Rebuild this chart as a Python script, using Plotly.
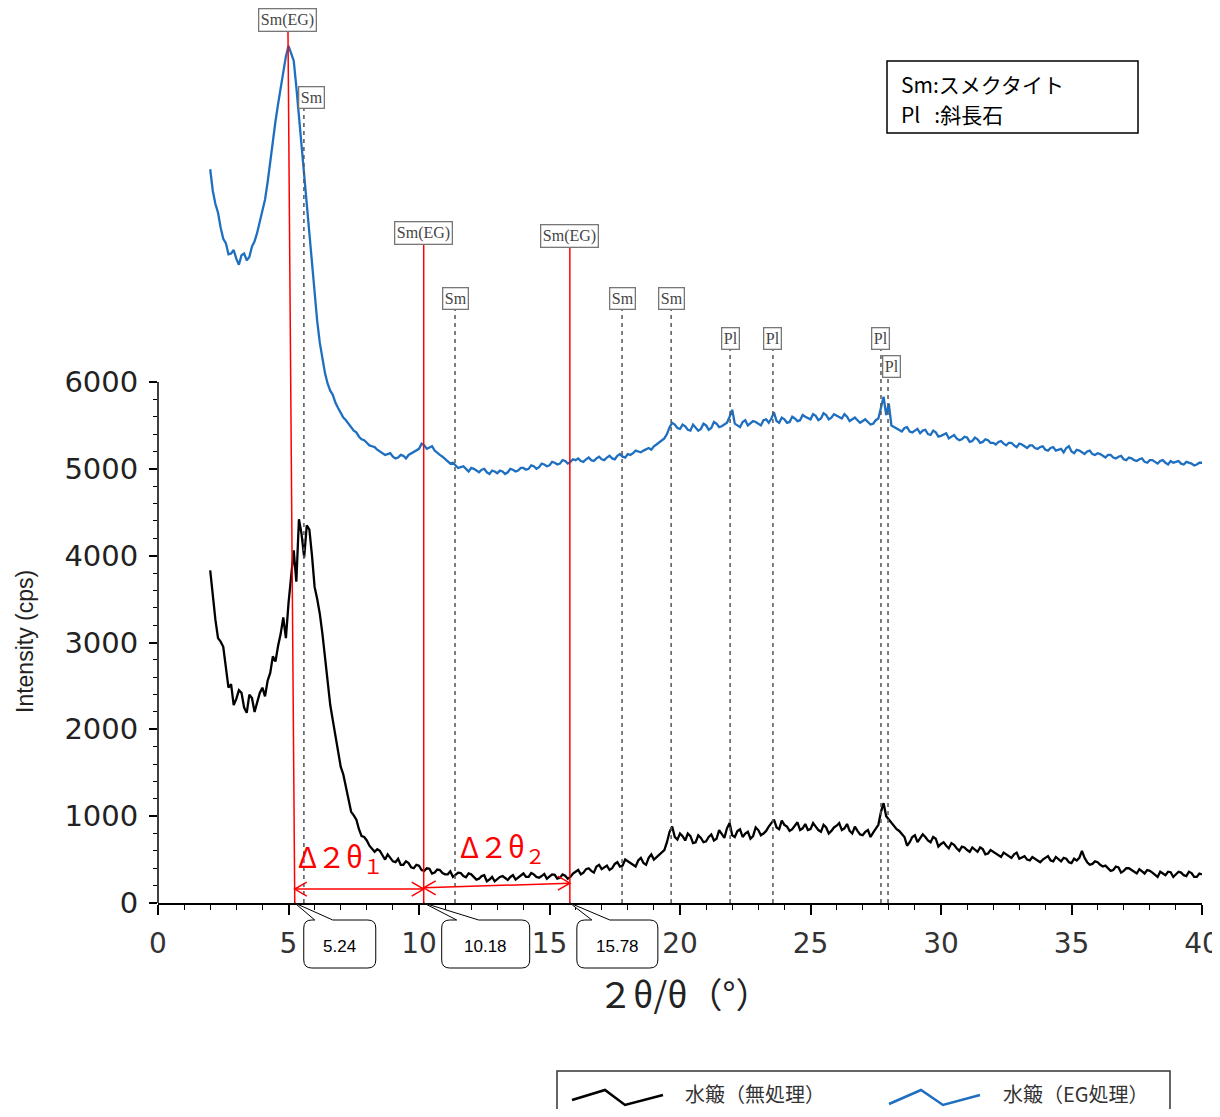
import plotly.graph_objects as go

# ---------------- data ----------------
# step-scan grid (0.2 deg) plus the in-between readings (0.1 deg offsets)
scan_2theta_main = [round(2.0 + 0.2 * i, 1) for i in range(191)]
scan_2theta_mid = [round(2.1 + 0.2 * i, 1) for i in range(190)]

intensity_untreated_main = [
    3830, 3260, 3010, 2700, 2520, 2350, 2420, 2190, 2360, 2310,
    2480, 2560, 2840, 2960, 3290, 3450, 4060, 4420, 3980, 4300,
    3640, 3330, 2820, 2280, 1930, 1570, 1340, 1050, 960, 770,
    720, 630, 620, 550, 560, 480, 510, 440, 460, 400,
    430, 370, 395, 350, 380, 330, 365, 320, 345, 295,
    330, 270, 310, 250, 300, 275, 310, 265, 320, 290,
    340, 300, 330, 290, 335, 300, 325, 290, 315, 300,
    360, 330, 390, 370, 420, 390, 430, 400, 470, 430,
    480, 440, 490, 460, 520, 500, 560, 610, 820, 760,
    800, 720, 770, 700, 750, 710, 790, 740, 800, 860,
    780, 830, 760, 820, 770, 840, 800, 880, 960, 850,
    900, 830, 890, 840, 910, 850, 880, 820, 870, 830,
    890, 840, 910, 800, 830, 780, 840, 810, 900, 1150,
    960, 880, 830, 760, 700, 780, 740, 760, 700, 740,
    680, 660, 690, 630, 650, 610, 640, 590, 620, 570,
    590, 550, 580, 540, 560, 510, 540, 490, 510, 470,
    520, 490, 530, 480, 510, 460, 490, 600, 470, 450,
    470, 420, 400, 380, 410, 370, 400, 360, 390, 340,
    370, 330, 360, 320, 355, 330, 350, 310, 345, 300,
    330,
]
intensity_untreated_mid = [
    3500, 3050, 2950, 2480, 2280, 2450, 2250, 2400, 2200, 2420,
    2380, 2650, 2780, 3100, 3050, 3800, 3700, 4250, 4350, 4000,
    3500, 3100, 2600, 2100, 1720, 1480, 1200, 1010, 850, 760,
    660, 590, 600, 500, 520, 470, 440, 480, 410, 440,
    380, 400, 340, 385, 345, 330, 300, 350, 310, 340,
    300, 280, 320, 270, 250, 300, 285, 300, 270, 320,
    300, 345, 300, 310, 280, 330, 280, 330, 280, 340,
    380, 350, 400, 350, 440, 410, 380, 450, 420, 500,
    460, 420, 520, 440, 560, 530, 580, 700, 880, 730,
    770, 800, 690, 780, 700, 760, 720, 840, 750, 920,
    760, 850, 800, 740, 870, 780, 830, 920, 870, 950,
    880, 850, 930, 860, 840, 920, 840, 900, 800, 870,
    920, 860, 830, 880, 790, 820, 760, 850, 1050, 1000,
    920, 850, 790, 660, 760, 700, 790, 720, 760, 650,
    700, 630, 670, 600, 640, 590, 610, 640, 560, 610,
    570, 530, 560, 520, 580, 530, 500, 530, 480, 500,
    540, 480, 500, 520, 470, 510, 520, 520, 440, 480,
    440, 430, 370, 420, 350, 400, 380, 340, 370, 380,
    350, 300, 340, 360, 300, 360, 320, 360, 300, 340,
]

intensity_eg_main = [
    8450, 8050, 7780, 7600, 7480, 7420, 7460, 7400, 7560, 7720,
    7960, 8300, 8780, 9200, 9560, 9870, 9700, 9050, 8380, 7650,
    7050, 6450, 6100, 5900, 5760, 5640, 5560, 5470, 5420, 5340,
    5300, 5260, 5220, 5190, 5170, 5140, 5130, 5150, 5160, 5190,
    5230, 5270, 5250, 5210, 5160, 5110, 5060, 5040, 5020, 5000,
    5010, 4980, 4990, 4960, 4980, 4950, 4970, 4960, 4990, 4980,
    5010, 5000, 5030, 5020, 5050, 5040, 5070, 5060, 5090, 5080,
    5100, 5090, 5110, 5100, 5120, 5110, 5130, 5120, 5150, 5140,
    5170, 5180, 5200, 5210, 5240, 5260, 5300, 5350, 5480, 5510,
    5460, 5490, 5440, 5480, 5460, 5500, 5470, 5520, 5490, 5530,
    5680, 5500, 5540, 5500, 5550, 5520, 5560, 5530, 5650, 5530,
    5570, 5540, 5580, 5560, 5600, 5570, 5610, 5580, 5620, 5590,
    5610, 5580, 5600, 5570, 5560, 5550, 5540, 5520, 5580, 5830,
    5750, 5480, 5450, 5470, 5430, 5440, 5410, 5450, 5390, 5420,
    5380, 5410, 5370, 5350, 5340, 5360, 5320, 5340, 5310, 5330,
    5300, 5310, 5290, 5300, 5270, 5290, 5260, 5270, 5240, 5250,
    5220, 5240, 5210, 5230, 5240, 5200, 5220, 5190, 5200, 5170,
    5180, 5150, 5160, 5130, 5140, 5110, 5130, 5100, 5110, 5080,
    5100, 5080, 5090, 5070, 5090, 5080, 5060, 5080, 5060, 5050,
    5070,
]
intensity_eg_mid = [
    8200, 7950, 7650, 7470, 7520, 7350, 7480, 7440, 7620, 7850,
    8100, 8550, 9000, 9400, 9750, 9780, 9400, 8700, 8000, 7350,
    6700, 6250, 5980, 5850, 5700, 5590, 5520, 5440, 5370, 5330,
    5270, 5250, 5200, 5160, 5180, 5120, 5160, 5120, 5180, 5210,
    5290, 5230, 5260, 5180, 5140, 5080, 5070, 5010, 5030, 4970,
    5000, 4960, 5000, 4940, 4970, 4980, 4940, 5000, 4970, 5010,
    4990, 5040, 5000, 5060, 5030, 5080, 5050, 5100, 5060, 5110,
    5120, 5080, 5130, 5090, 5140, 5100, 5150, 5110, 5170, 5130,
    5160, 5210, 5190, 5230, 5220, 5280, 5320, 5400, 5530, 5470,
    5510, 5450, 5510, 5440, 5520, 5450, 5540, 5480, 5510, 5600,
    5520, 5480, 5560, 5520, 5540, 5500, 5570, 5580, 5550, 5590,
    5530, 5600, 5550, 5620, 5580, 5630, 5560, 5640, 5570, 5630,
    5590, 5630, 5550, 5590, 5530, 5570, 5510, 5560, 5700, 5620,
    5500, 5470, 5430, 5480, 5420, 5460, 5440, 5400, 5440, 5370,
    5400, 5350, 5390, 5330, 5370, 5310, 5360, 5300, 5340, 5300,
    5280, 5320, 5270, 5300, 5250, 5280, 5240, 5270, 5230, 5260,
    5210, 5250, 5220, 5190, 5260, 5180, 5210, 5170, 5210, 5160,
    5170, 5130, 5160, 5120, 5150, 5100, 5120, 5090, 5120, 5070,
    5100, 5060, 5100, 5050, 5070, 5090, 5050, 5070, 5040, 5070,
]

series_names = ["水簸（無処理）", "水簸（EG処理）"]

x_tick_vals = [0, 5, 10, 15, 20, 25, 30, 35, 40]
y_tick_vals = [0, 1000, 2000, 3000, 4000, 5000, 6000]

# reference peak markers (dashed): name, 2theta
ref_names = ["Sm", "Sm", "Sm", "Sm", "Pl", "Pl", "Pl", "Pl"]
ref_2theta = [5.59, 11.38, 17.78, 19.66, 21.92, 23.56, 27.70, 27.97]

# EG smectite peaks (red lines) and measured values
eg_peak_2theta = [5.24, 10.18, 15.78]
eg_peak_labels = ["5.24", "10.18", "15.78"]


def merge(main, mid):
    out = []
    for i in range(len(mid)):
        out.append(main[i])
        out.append(mid[i])
    out.append(main[-1])
    return out


x_all = merge(scan_2theta_main, scan_2theta_mid)
y_untreated = merge(intensity_untreated_main, intensity_untreated_mid)
y_eg = merge(intensity_eg_main, intensity_eg_mid)

# ---------------- layout constants (page pixel coordinates) ----------------
PAGE_OFF = 8                      # default body margin of the html page
W, H = 1220 - 2 * PAGE_OFF, 1117 - 2 * PAGE_OFF
PL, PR, PT, PB = 158, 1202, 10, 903
PW, PH = PR - PL, PB - PT
X_MAX = 40.0
PX_PER_CPS = 521.0 / 6000.0
Y_TOP = PH / PX_PER_CPS


def xpap(px):
    return (px - PL) / PW


def ypap(py):
    return (PB - py) / PH


def x_to_px(v):
    return PL + v / X_MAX * PW


def py_to_cps(py):
    return (PB - py) / PX_PER_CPS


BLUE = "#1f6fc1"
RED = "#ff0000"
JP = "Noto Sans CJK JP"
LABEL_FONT = dict(family="Liberation Serif", size=16, color="#444")

fig = go.Figure()
fig.add_trace(go.Scatter(x=x_all, y=y_eg, mode="lines",
                         line=dict(color=BLUE, width=2.3), name=series_names[1]))
fig.add_trace(go.Scatter(x=x_all, y=y_untreated, mode="lines",
                         line=dict(color="black", width=2.3), name=series_names[0]))

shapes = []
annotations = []


def ann(**kw):
    kw.setdefault("showarrow", False)
    kw.setdefault("xanchor", "center")
    kw.setdefault("yanchor", "middle")
    annotations.append(kw)


# y-axis line from 0 to 6000 only
shapes.append(dict(type="line", xref="paper", yref="y", x0=0, x1=0, y0=0, y1=6000,
                   line=dict(color="black", width=1.5)))

# dashed reference lines with labels
label_py = {"Sm": 298, "Pl": 338}
special_label = {0: (97, 8), 7: (366, 3)}  # index: (pixel y, xshift)
for i, (nm, tt) in enumerate(zip(ref_names, ref_2theta)):
    py, xs = special_label.get(i, (label_py[nm], 0))
    ycen = py_to_cps(py)
    shapes.append(dict(type="line", xref="x", yref="y", x0=tt, x1=tt, y0=0,
                       y1=ycen - 11 / PX_PER_CPS,
                       line=dict(color="#555555", width=1.5, dash="4px,4px")))
    ann(x=tt, y=ycen, xref="x", yref="y", text=nm, xshift=xs, font=LABEL_FONT,
        bordercolor="#777", borderwidth=1.3, borderpad=1.5, bgcolor="white")

# red EG lines + labels
red_tops = [(4.98, 20), (eg_peak_2theta[1], 233), (eg_peak_2theta[2], 236)]
for v, (xtop, lpy) in zip(eg_peak_2theta, red_tops):
    ycen = py_to_cps(lpy)
    shapes.append(dict(type="line", xref="x", yref="y", x0=xtop, x1=v,
                       y0=ycen - 11 / PX_PER_CPS, y1=0, line=dict(color=RED, width=1.5)))
    ann(x=xtop, y=ycen, xref="x", yref="y", text="Sm(EG)", font=LABEL_FONT,
        bordercolor="#777", borderwidth=1.3, borderpad=1.5, bgcolor="white")

# double arrows between red lines
dx_head = 12 / PW * X_MAX
dy_head = 7 / PX_PER_CPS
arrow_y = [(160, 160), (175, 228)]
for (xa, xb), (ya, yb) in zip([(eg_peak_2theta[0], eg_peak_2theta[1]),
                               (eg_peak_2theta[1], eg_peak_2theta[2])], arrow_y):
    shapes.append(dict(type="line", xref="x", yref="y", x0=xa, x1=xb, y0=ya, y1=yb,
                       line=dict(color=RED, width=1.5)))
    shapes.append(dict(type="path", xref="x", yref="y",
                       path=f"M {xa+dx_head},{ya+dy_head} L {xa},{ya} L {xa+dx_head},{ya-dy_head}",
                       line=dict(color=RED, width=1.5)))
    shapes.append(dict(type="path", xref="x", yref="y",
                       path=f"M {xb-dx_head},{yb+dy_head} L {xb},{yb} L {xb-dx_head},{yb-dy_head}",
                       line=dict(color=RED, width=1.5)))

# delta labels
ann(x=5.3, y=py_to_cps(857), xref="x", yref="y", xanchor="left",
    text="Δ２θ<sub>１</sub>", font=dict(family=JP, size=29, color=RED))
ann(x=11.5, y=py_to_cps(847), xref="x", yref="y", xanchor="left",
    text="Δ２θ<sub>２</sub>", font=dict(family=JP, size=29, color=RED))

# callouts (offsets in px relative to the tip)
callout_geom = [(9, 81, 20, 38), (18, 106, 33, 55), (7, 88, 22, 40)]
top, bot, r = 920, 968, 8
for v, txt, (lo, ro, p1o, p2o) in zip(eg_peak_2theta, eg_peak_labels, callout_geom):
    tip = x_to_px(v)
    L, R, P1, P2 = tip + lo, tip + ro, tip + p1o, tip + p2o
    pts = [
        f"M {xpap(P1)},{ypap(top)}",
        f"L {xpap(tip)},{ypap(PB)}",
        f"L {xpap(P2)},{ypap(top)}",
        f"L {xpap(R - r)},{ypap(top)}",
        f"Q {xpap(R)},{ypap(top)} {xpap(R)},{ypap(top + r)}",
        f"L {xpap(R)},{ypap(bot - r)}",
        f"Q {xpap(R)},{ypap(bot)} {xpap(R - r)},{ypap(bot)}",
        f"L {xpap(L + r)},{ypap(bot)}",
        f"Q {xpap(L)},{ypap(bot)} {xpap(L)},{ypap(bot - r)}",
        f"L {xpap(L)},{ypap(top + r)}",
        f"Q {xpap(L)},{ypap(top)} {xpap(L + r)},{ypap(top)}",
        "Z",
    ]
    shapes.append(dict(type="path", xref="paper", yref="paper", path=" ".join(pts),
                       line=dict(color="black", width=1), fillcolor="white", layer="above"))
    ann(x=xpap((L + R) / 2), y=ypap((top + bot) / 2 + 2), xref="paper", yref="paper",
        text=txt, font=dict(family="Liberation Sans", size=17, color="black"))

# key box (top-right)
shapes.append(dict(type="rect", xref="paper", yref="paper", x0=xpap(887), x1=xpap(1138),
                   y0=ypap(133), y1=ypap(61), line=dict(color="black", width=1.5), fillcolor="white"))
ann(x=xpap(899), y=ypap(84), xref="paper", yref="paper", xanchor="left",
    text="Sm:スメクタイト", font=dict(family=JP, size=21, color="black"))
ann(x=xpap(899), y=ypap(114), xref="paper", yref="paper", xanchor="left",
    text="Pl\u00a0\u00a0 :斜長石", font=dict(family=JP, size=21, color="black"))

# bottom legend box
shapes.append(dict(type="rect", xref="paper", yref="paper", x0=xpap(557), x1=xpap(1170),
                   y0=ypap(1116), y1=ypap(1071), line=dict(color="#333", width=1.5), fillcolor="white"))
for col, zig, tx, name in [("black", [(572, 1100), (605, 1090), (625, 1105), (663, 1095)], 683, series_names[0]),
                           (BLUE, [(889, 1104), (921, 1090), (943, 1105), (980, 1095)], 1001, series_names[1])]:
    path = "M " + " L ".join(f"{xpap(a)},{ypap(b)}" for a, b in zig)
    shapes.append(dict(type="path", xref="paper", yref="paper", path=path,
                       line=dict(color=col, width=2.5)))
    ann(x=xpap(tx), y=ypap(1093), xref="paper", yref="paper", xanchor="left",
        text=name, font=dict(family=JP, size=20, color="#333"))

# axis titles
ann(x=xpap(25), y=py_to_cps(642), xref="paper", yref="y", text="Intensity (cps)",
    textangle=-90, font=dict(family="Liberation Sans", size=23, color="#222"))
ann(x=xpap(684), y=ypap(993), xref="paper", yref="paper", text="２θ/θ（°）",
    font=dict(family=JP, size=35, color="#222"))

fig.update_layout(
    width=W, height=H,
    margin=dict(l=PL - PAGE_OFF, r=W - (PR - PAGE_OFF), t=PT - PAGE_OFF, b=H - (PB - PAGE_OFF), pad=0),
    plot_bgcolor="white", paper_bgcolor="white",
    showlegend=False,
    shapes=shapes, annotations=annotations,
    xaxis=dict(range=[0, X_MAX], showgrid=False, zeroline=False, showline=True, automargin=False,
               linecolor="black", linewidth=1.5, ticks="outside", ticklen=10, tickwidth=1.5,
               tickcolor="black", tickvals=x_tick_vals, ticklabelstandoff=5,
               ticklabeloverflow="allow",
               tickfont=dict(family="DejaVu Sans", size=28, color="#333"),
               minor=dict(dtick=1, ticks="outside", ticklen=5, tickwidth=1, tickcolor="black")),
    yaxis=dict(range=[0, Y_TOP], showgrid=False, zeroline=False, showline=False, automargin=False,
               ticks="outside", ticklen=8, tickwidth=1.5, tickcolor="black",
               tickvals=y_tick_vals, ticklabelstandoff=5,
               tickfont=dict(family="DejaVu Sans", size=29, color="#222"),
               minor=dict(tickvals=[v for v in range(200, 6000, 200) if v % 1000],
                          ticks="outside", ticklen=4, tickwidth=1, tickcolor="black")),
)

fig.write_html("out.html")
